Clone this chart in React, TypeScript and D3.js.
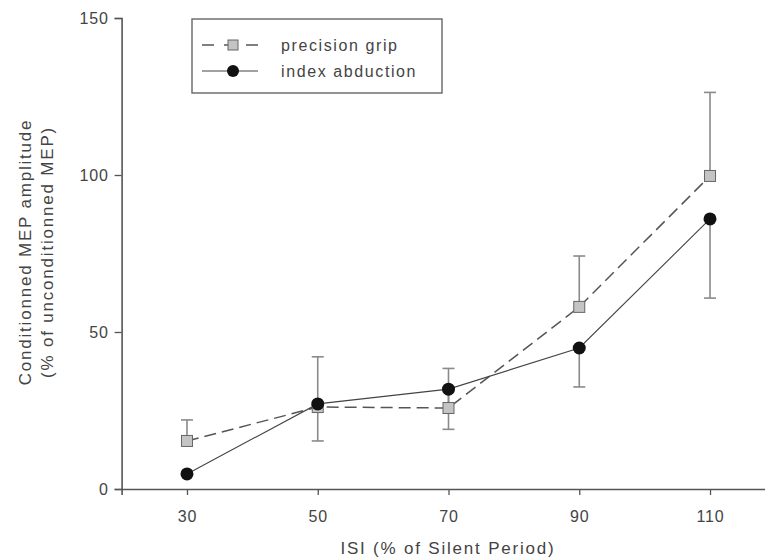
import React, { useEffect, useRef } from "react";
import * as d3 from "d3";

const isi = [30, 50, 70, 90, 110];
const gripMean = [15.3, 26.1, 25.8, 58.0, 99.7];
const gripUpper = [22.0, 42.1, 38.4, 74.2, 126.3];
const abdMean = [4.8, 27.1, 31.8, 44.9, 86.0];
const abdLower = [4.8, 15.3, 19.0, 32.5, 60.8];
const xMajor = [30, 50, 70, 90, 110];
const xMinor = [40, 60, 80, 100];
const yMajor = [0, 50, 100, 150];
const yMinor = [10, 20, 30, 40, 60, 70, 80, 90, 110, 120, 130, 140];
const legendLabels = ["precision grip", "index abduction"];

const W = 765;
const H = 558;
const FONT = "'Liberation Sans', Arial, sans-serif";

export default function App() {
  const ref = useRef<SVGSVGElement>(null);

  useEffect(() => {
    const svg = d3.select(ref.current);
    svg.selectAll("*").remove();

    const x = d3.scaleLinear().domain([20, 120]).range([121.6, 775.4]);
    const y = d3.scaleLinear().domain([0, 150]).range([489, 18]);
    const axisColor = "#555";
    const textColor = "#444";

    // Y axis
    const gy = svg.append("g").attr("transform", `translate(${x(20)},0)`);
    gy.call(
      d3.axisLeft(y).tickValues(yMinor).tickSize(5).tickFormat(() => "")
    );
    gy.call(
      d3.axisLeft(y).tickValues(yMajor).tickSize(7).tickPadding(6).tickFormat(d3.format("d"))
    );
    gy.selectAll("path").attr("stroke", axisColor).attr("stroke-width", 1.6);
    gy.selectAll("line").attr("stroke", axisColor).attr("stroke-width", 1.3);
    gy.selectAll("text")
      .attr("fill", textColor)
      .style("font-family", FONT)
      .style("font-size", "16px")
      .style("letter-spacing", "0.8px");

    // X axis
    const gx = svg.append("g").attr("transform", `translate(0,${y(0)})`);
    gx.call(
      d3.axisBottom(x).tickValues(xMinor).tickSize(4).tickFormat(() => "")
    );
    gx.call(
      d3.axisBottom(x).tickValues(xMajor).tickSize(6).tickPadding(16).tickFormat(d3.format("d"))
    );
    gx.selectAll("path").attr("stroke", axisColor).attr("stroke-width", 1.6);
    gx.selectAll("line").attr("stroke", axisColor).attr("stroke-width", 1.3);
    gx.selectAll("text")
      .attr("fill", textColor)
      .style("font-family", FONT)
      .style("font-size", "16px")
      .style("letter-spacing", "0.8px");

    // Axis titles
    svg.append("text")
      .attr("x", 448)
      .attr("y", 554)
      .attr("text-anchor", "middle")
      .attr("fill", textColor)
      .style("font-family", FONT)
      .style("font-size", "17px")
      .style("letter-spacing", "1.8px")
      .text("ISI (% of Silent Period)");

    const yTitle = svg.append("g").attr("transform", "translate(0,252) rotate(-90)");
    yTitle.append("text")
      .attr("x", 0)
      .attr("y", 31)
      .attr("text-anchor", "middle")
      .attr("fill", textColor)
      .style("font-family", FONT)
      .style("font-size", "17px")
      .style("letter-spacing", "1.8px")
      .text("Conditionned MEP amplitude");
    yTitle.append("text")
      .attr("x", 0)
      .attr("y", 53)
      .attr("text-anchor", "middle")
      .attr("fill", textColor)
      .style("font-family", FONT)
      .style("font-size", "17px")
      .style("letter-spacing", "1.8px")
      .text("(% of unconditionned MEP)");

    const errColor = "#8a8a8a";
    const cap = 6;

    // Error bars (grip upward, abduction downward)
    const eb = svg.append("g");
    isi.forEach((v, i) => {
      const cx = x(v);
      eb.append("line").attr("x1", cx).attr("x2", cx)
        .attr("y1", y(gripMean[i])).attr("y2", y(gripUpper[i]))
        .attr("stroke", errColor).attr("stroke-width", 1.6);
      eb.append("line").attr("x1", cx - cap).attr("x2", cx + cap)
        .attr("y1", y(gripUpper[i])).attr("y2", y(gripUpper[i]))
        .attr("stroke", errColor).attr("stroke-width", 1.6);
      if (abdLower[i] < abdMean[i] - 0.5) {
        eb.append("line").attr("x1", cx).attr("x2", cx)
          .attr("y1", y(abdMean[i])).attr("y2", y(abdLower[i]))
          .attr("stroke", errColor).attr("stroke-width", 1.6);
        eb.append("line").attr("x1", cx - cap).attr("x2", cx + cap)
          .attr("y1", y(abdLower[i])).attr("y2", y(abdLower[i]))
          .attr("stroke", errColor).attr("stroke-width", 1.6);
      }
    });

    const line = d3.line<number>().x((_, i) => x(isi[i]));

    // Grip dashed line
    svg.append("path")
      .attr("d", line.y((d) => y(d))(gripMean))
      .attr("fill", "none")
      .attr("stroke", "#555")
      .attr("stroke-width", 1.5)
      .attr("stroke-dasharray", "12,6");

    // Abduction solid line
    svg.append("path")
      .attr("d", line.y((d) => y(d))(abdMean))
      .attr("fill", "none")
      .attr("stroke", "#444")
      .attr("stroke-width", 1.1);

    const sq = 11;
    // Grip markers
    svg.append("g").selectAll("rect").data(gripMean).enter().append("rect")
      .attr("x", (_, i) => x(isi[i]) - sq / 2)
      .attr("y", (d) => y(d) - sq / 2)
      .attr("width", sq).attr("height", sq)
      .attr("fill", "#c4c4c4").attr("stroke", "#666").attr("stroke-width", 1);

    // Abduction markers
    svg.append("g").selectAll("circle").data(abdMean).enter().append("circle")
      .attr("cx", (_, i) => x(isi[i]))
      .attr("cy", (d) => y(d))
      .attr("r", 6.5)
      .attr("fill", "#111");

    // Legend
    const lg = svg.append("g");
    lg.append("rect")
      .attr("x", 192).attr("y", 19).attr("width", 250).attr("height", 74)
      .attr("fill", "white").attr("stroke", "#666").attr("stroke-width", 1.4);
    const rowY = [45, 71];
    lg.append("line").attr("x1", 202).attr("x2", 258).attr("y1", rowY[0]).attr("y2", rowY[0])
      .attr("stroke", "#555").attr("stroke-width", 1.5).attr("stroke-dasharray", "12,10");
    lg.append("rect").attr("x", 233 - 5).attr("y", rowY[0] - 5).attr("width", 10).attr("height", 10)
      .attr("fill", "#c4c4c4").attr("stroke", "#666");
    lg.append("line").attr("x1", 202).attr("x2", 258).attr("y1", rowY[1]).attr("y2", rowY[1])
      .attr("stroke", "#444").attr("stroke-width", 1.1);
    lg.append("circle").attr("cx", 233).attr("cy", rowY[1]).attr("r", 6).attr("fill", "#111");
    legendLabels.forEach((t, i) => {
      lg.append("text")
        .attr("x", 281).attr("y", rowY[i] + 6)
        .attr("fill", textColor)
        .style("font-family", FONT)
        .style("font-size", "16px")
        .style("letter-spacing", "1.6px")
        .text(t);
    });
  }, []);

  return (
    <div style={{ position: "absolute", left: 0, top: 0 }}>
      <svg ref={ref} width={W} height={H} style={{ display: "block", background: "white" }} />
    </div>
  );
}
